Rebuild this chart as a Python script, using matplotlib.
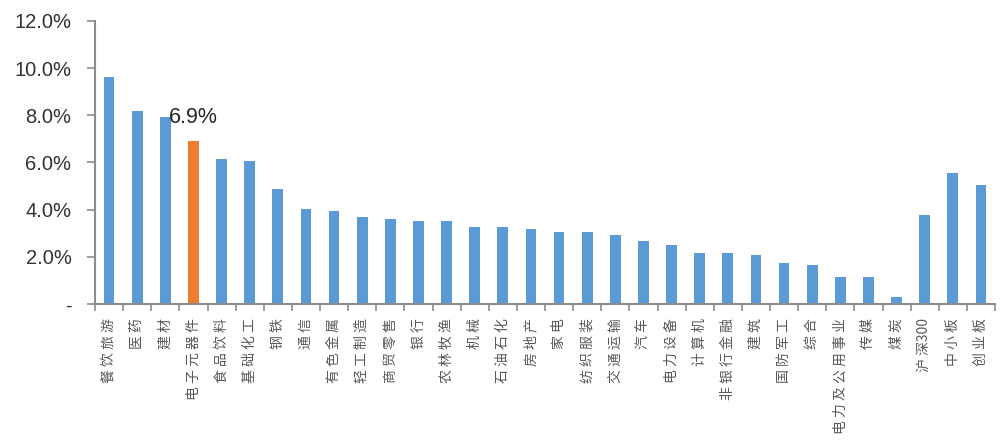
import matplotlib.pyplot as plt
import numpy as np
import re
from matplotlib.ticker import FuncFormatter, FixedLocator

plt.rcParams['font.family'] = ['Liberation Sans', 'Noto Sans CJK SC', 'DejaVu Sans']

sectors = ['餐饮旅游', '医药', '建材', '电子元器件', '食品饮料', '基础化工', '钢铁', '通信',
           '有色金属', '轻工制造', '商贸零售', '银行', '农林牧渔', '机械', '石油石化', '房地产',
           '家电', '纺织服装', '交通运输', '汽车', '电力设备', '计算机', '非银行金融', '建筑',
           '国防军工', '综合', '电力及公用事业', '传媒', '煤炭', '沪深300', '中小板', '创业板']
returns = [9.62, 8.18, 7.92, 6.90, 6.14, 6.06, 4.87, 4.03,
           3.94, 3.69, 3.60, 3.52, 3.52, 3.26, 3.26, 3.18,
           3.05, 3.05, 2.92, 2.67, 2.50, 2.16, 2.16, 2.08,
           1.74, 1.65, 1.14, 1.14, 0.30, 3.77, 5.55, 5.04]
highlight = '电子元器件'

blue = '#5B9BD5'
orange = '#ED7D31'
gray = '#8C8C8C'

fig = plt.figure(figsize=(10, 4.45), dpi=100)
ax = fig.add_axes([0.095, 0.317, 0.9, 0.636])

x = np.arange(len(sectors))
colors = [orange if s == highlight else blue for s in sectors]
ax.bar(x, returns, width=0.38, color=colors, zorder=2)

hi = sectors.index(highlight)
ax.text(hi, 7.45, '%.1f%%' % returns[hi], ha='center', va='bottom',
        fontsize=15.5, color='#262626')

ax.set_xlim(-0.5, len(sectors) - 0.5)
ax.set_ylim(0, 12)
ax.set_yticks(np.arange(0, 12.1, 2))
ax.yaxis.set_major_formatter(FuncFormatter(lambda v, p: '-' if v == 0 else '%.1f%%' % v))
ax.tick_params(axis='y', labelsize=14.5, length=6, width=1.2, color=gray,
               labelcolor='#333333', pad=11)


def spaced(s):
    # loose letter spacing like the original vertical labels
    parts = re.findall(r'[0-9]+|.', s)
    out = parts[0]
    for p in parts[1:]:
        out += p if p.isdigit() else ' ' + p
    return out


ax.set_xticks(x)
ax.set_xticklabels([spaced(s) for s in sectors], rotation=90, fontsize=10,
                   color='#595959', family=['Noto Sans CJK SC', 'DejaVu Sans'])
ax.tick_params(axis='x', which='major', length=0, pad=10)
ax.xaxis.set_minor_locator(FixedLocator(np.arange(-0.5, len(sectors), 1)))
ax.tick_params(axis='x', which='minor', length=5, width=1.2, color=gray)

for s in ['top', 'right']:
    ax.spines[s].set_visible(False)
for s in ['left', 'bottom']:
    ax.spines[s].set_color(gray)
    ax.spines[s].set_linewidth(1.5)

fig.savefig('out.png')
